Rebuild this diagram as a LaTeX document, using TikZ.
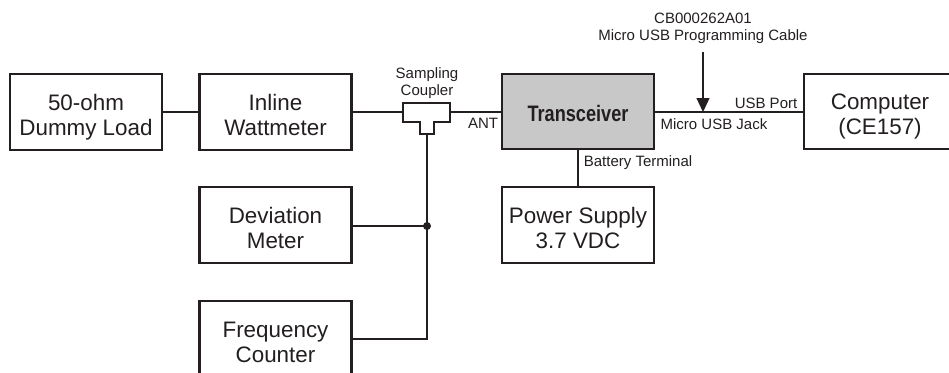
\documentclass[tikz,border=0pt]{standalone}
\usepackage{fontspec}
\setmainfont{Liberation Sans}
\usetikzlibrary{arrows.meta,calc}
\definecolor{ink}{HTML}{231F20}
\definecolor{boxgray}{HTML}{C8C8C8}
\newcommand{\twoline}[2]{\raisebox{-5.5pt}[\height][\depth]{\begin{tabular}{@{}c@{}}#1\\#2\end{tabular}}}
\tikzset{
  blk/.style={draw=ink, line width=2.7pt, minimum width=152pt, minimum height=76pt,
    align=center, inner sep=0pt, text=ink,
    font=\fontsize{22.4}{25}\selectfont},
  wire/.style={draw=ink, line width=1.3pt},
  lbl/.style={text=ink, inner sep=0pt, align=center,
    font=\fontsize{15}{17}\selectfont}
}
\begin{document}
\begin{tikzpicture}[x=1pt,y=-1pt]
\useasboundingbox (0,0) rectangle (949,372);
\clip (0,0) rectangle (949,372);
\fill[white] (0,0) rectangle (949,372);
% blocks
\node[blk] (load) at (86,112) {\twoline{50-ohm}{Dummy Load}};
\node[blk] (watt) at (275.5,112) {\twoline{Inline}{Wattmeter}};
\node[blk, fill=boxgray, minimum height=75pt] (trx) at (578,111.5)
  {\raisebox{-2pt}[\height][\depth]{\scalebox{0.81}[1]{\bfseries Transceiver}}};
\node[blk, minimum height=75pt] (comp) at (880,111.5) {\twoline{Computer}{(CE157)}};
\node[blk] (psu) at (578,225) {\twoline{Power Supply}{3.7 VDC}};
\node[blk] (dev) at (275.5,225) {\twoline{Deviation}{Meter}};
\node[blk] (freq) at (275.5,339) {\twoline{Frequency}{Counter}};
% coupler
\coordinate (cplin) at (403,112);
\coordinate (cplout) at (450,112);
\coordinate (cplbot) at (427,134);
\coordinate (junc) at (427,226);
\coordinate (cabletop) at (703,52);
\coordinate (jack) at (703,112);
\draw[draw=ink, line width=2.7pt, line join=miter]
  (403,103) -- (450,103) -- (450,122) -- (434,122) -- (434,134)
  -- (420,134) -- (420,122) -- (403,122) -- cycle;
% wires
\draw[wire] (load.east |- 0,112) -- (watt.west |- 0,112);
\draw[wire] (watt.east |- 0,112) -- (cplin);
\draw[wire] (cplout) -- (trx.west |- cplout);
\draw[wire] (trx.east |- jack) -- (comp.west |- jack);
\draw[wire] (trx.south) -- (psu.north);
\draw[wire] (cplbot) -- (junc) -- (cplbot |- freq.east) -- (freq.east);
\draw[wire] (dev.east |- junc) -- (junc);
\fill[ink] (junc) circle (4pt);
\draw[wire, -{Triangle[length=14pt,width=13pt]}] (cabletop) -- (jack);
% labels
\node[lbl] (lsamp) at (427,83) {Sampling\\Coupler};
\node[lbl] (lant) at (483,123) {ANT};
\node[lbl] (lcable) at (703,28.5) {CB000262A01\\Micro USB Programming Cable};
\node[lbl] (lport) at (766,103) {USB Port};
\node[lbl] (ljack) at (714,124) {Micro USB Jack};
\node[lbl] (lbat) at (638,163) {Battery Terminal};
\end{tikzpicture}
\end{document}
